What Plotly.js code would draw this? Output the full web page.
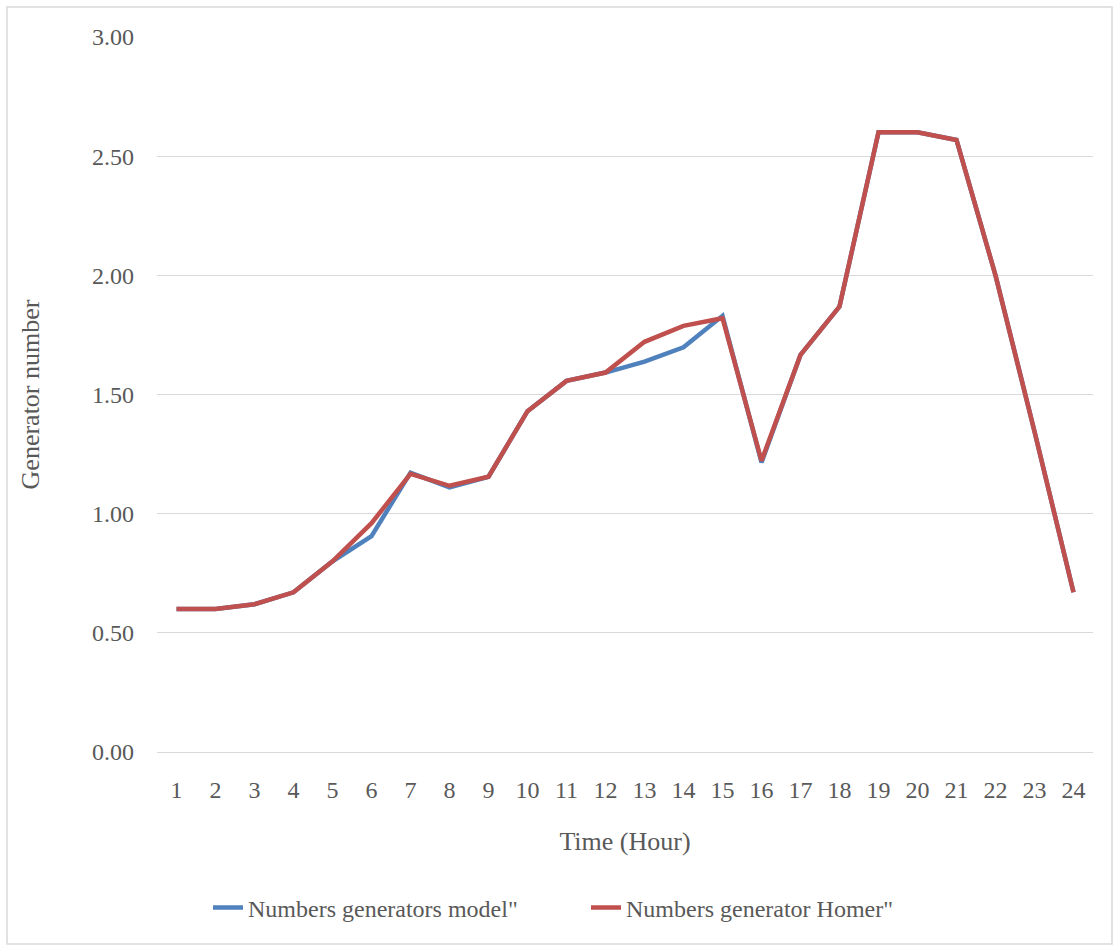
<!DOCTYPE html>
<html>
<head>
<meta charset="utf-8">
<script src="https://cdn.plot.ly/plotly-3.0.1.min.js"></script>
<style>
  html, body { margin: 0; padding: 0; background: #ffffff; }
  #chart { width: 1115px; height: 946px; }
</style>
</head>
<body>
<div id="chart"></div>
<script>
// Hours of the day
const hours = ['1','2','3','4','5','6','7','8','9','10','11','12','13','14','15','16','17','18','19','20','21','22','23','24'];

// Number of generators running each hour, from the model
const modelGenerators = [0.60, 0.60, 0.62, 0.67, 0.80, 0.906, 1.172, 1.11, 1.155, 1.43, 1.557, 1.592, 1.638, 1.698, 1.83, 1.215, 1.666, 1.869, 2.60, 2.60, 2.568, 2.00, 1.345, 0.67];

// Number of generators running each hour, from HOMER
const homerGenerators = [0.60, 0.60, 0.62, 0.67, 0.80, 0.96, 1.167, 1.117, 1.155, 1.43, 1.557, 1.592, 1.721, 1.788, 1.82, 1.222, 1.666, 1.869, 2.60, 2.60, 2.568, 2.00, 1.345, 0.67];

const seriesNames = ['Numbers generators model"', 'Numbers generator Homer"'];
const yTicks = [0, 0.5, 1, 1.5, 2, 2.5, 3];

const textColor = '#595959';
const gridColor = '#d9d9d9';
const serif = '"Liberation Serif", "Times New Roman", serif';

const traces = [
  {
    x: hours, y: modelGenerators, name: seriesNames[0],
    type: 'scatter', mode: 'lines',
    line: { color: '#4f81bd', width: 4.5, shape: 'linear' }
  },
  {
    x: hours, y: homerGenerators, name: seriesNames[1],
    type: 'scatter', mode: 'lines',
    line: { color: '#c0504d', width: 4.5, shape: 'linear' }
  }
];

const layout = {
  width: 1115, height: 946,
  margin: { l: 157, r: 22, t: 37, b: 194 },
  paper_bgcolor: '#ffffff', plot_bgcolor: '#ffffff',
  font: { family: serif, color: textColor, size: 24 },
  showlegend: true,
  legend: {
    orientation: 'h', x: (208 - 157) / 936, xanchor: 'left', y: -0.218, yanchor: 'middle',
    font: { family: serif, color: textColor, size: 24 },
    entrywidth: 333, entrywidthmode: 'pixels', tracegroupgap: 0
  },
  xaxis: {
    type: 'category', range: [-0.5, 23.5],
    showgrid: false, zeroline: false,
    showline: true, linecolor: gridColor, linewidth: 1,
    ticks: '', ticklabelstandoff: 16,
    tickfont: { family: serif, color: textColor, size: 24 },
    title: { text: 'Time (Hour)', font: { family: serif, color: textColor, size: 26 }, standoff: 30 },
    fixedrange: true
  },
  yaxis: {
    range: [0, 3], tickvals: yTicks, tickformat: '.2f',
    showgrid: true, gridcolor: gridColor, gridwidth: 1,
    zeroline: false, showline: false,
    ticks: '', ticklabelstandoff: 22,
    tickfont: { family: serif, color: textColor, size: 24 },
    title: { text: 'Generator number', font: { family: serif, color: textColor, size: 26 }, standoff: 44 },
    fixedrange: true
  },
  shapes: [
    // outer chart frame
    {
      type: 'rect', xref: 'paper', yref: 'paper',
      x0: (7 - 157) / 936, x1: (1112 - 157) / 936,
      y0: (752 - 944) / 715, y1: (752 - 7) / 715,
      line: { color: gridColor, width: 1.5 }, fillcolor: 'rgba(0,0,0,0)', layer: 'below'
    }
  ]
};

Plotly.newPlot('chart', traces, layout, { displayModeBar: false, staticPlot: true });
</script>
</body>
</html>
